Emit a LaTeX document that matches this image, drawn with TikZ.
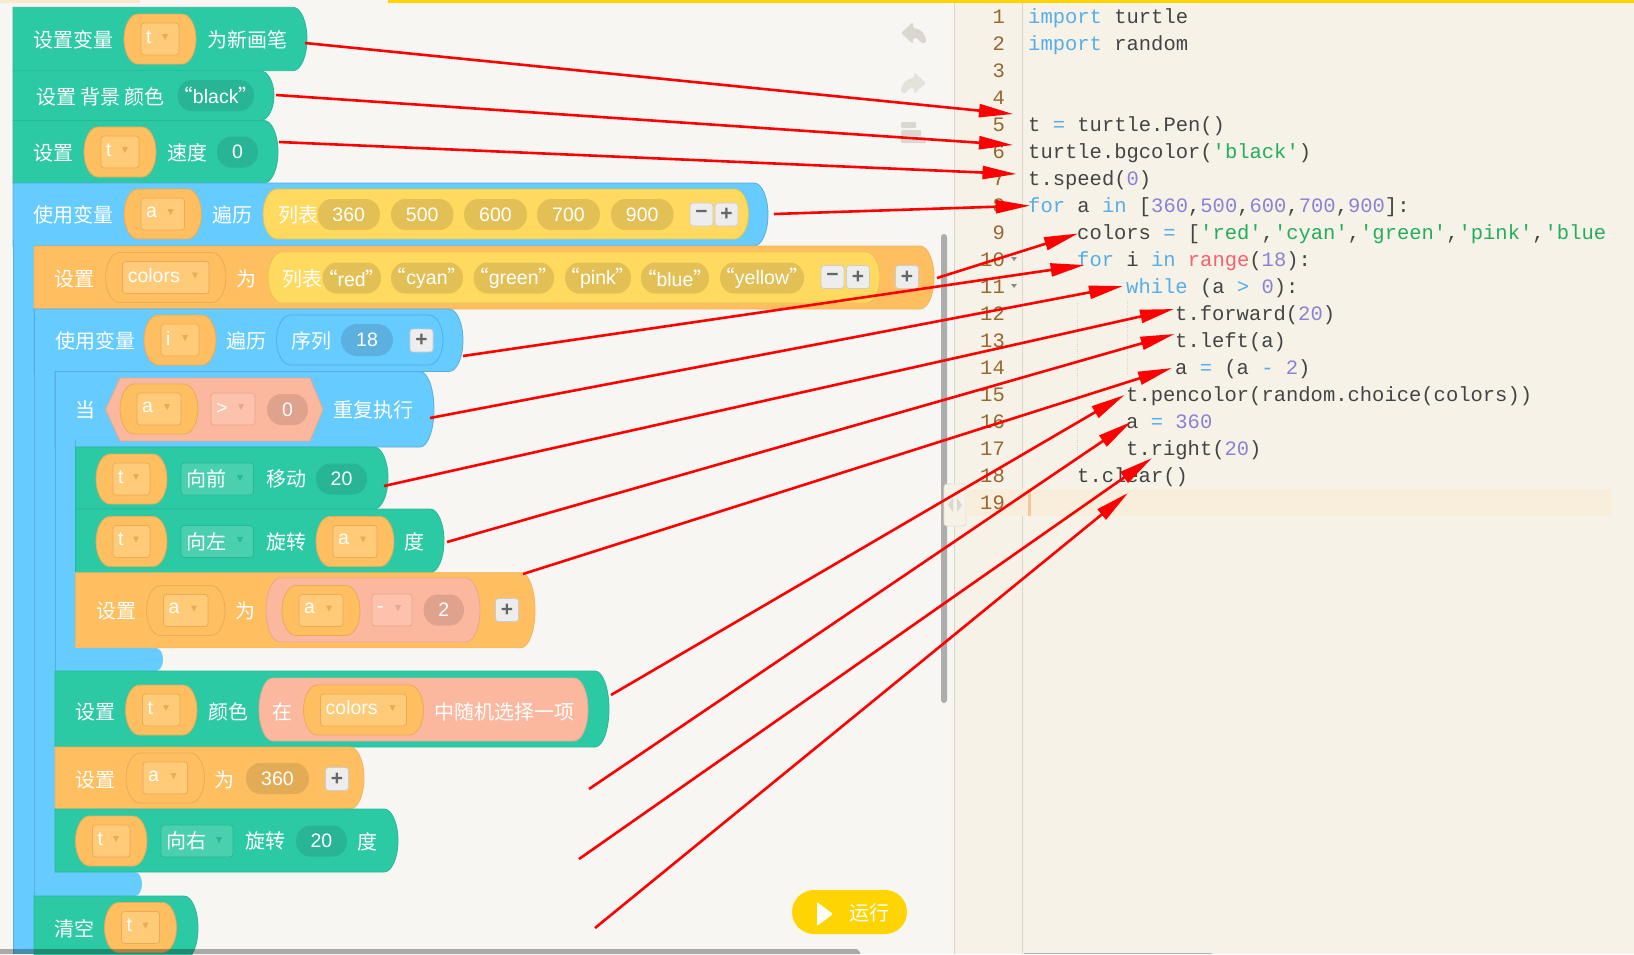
\documentclass[tikz,border=0pt]{standalone}
\usepackage{fontspec}
\setmainfont{Liberation Sans}
\newfontfamily\cjk{Noto Sans CJK SC}
\newfontfamily\codefont{Liberation Mono}
\usetikzlibrary{arrows.meta}
\definecolor{pagebg}{HTML}{F7F6F2}
\definecolor{codebg}{HTML}{F6F2E8}
\definecolor{linehl}{HTML}{F8EEDB}
\definecolor{goldc}{HTML}{FFD400}
\definecolor{greenb}{HTML}{2CC9A5}
\definecolor{greenl}{HTML}{27B89A}
\definecolor{greend}{HTML}{27B596}
\definecolor{greens}{HTML}{4AD0AF}
\definecolor{blueb}{HTML}{66CBFF}
\definecolor{bluel}{HTML}{58AEDC}
\definecolor{blued}{HTML}{5BB0E0}
\definecolor{orangeb}{HTML}{FFBF60}
\definecolor{orangel}{HTML}{E8AB58}
\definecolor{oranges}{HTML}{FFCB78}
\definecolor{oranged}{HTML}{E2AB56}
\definecolor{yellowb}{HTML}{FFDA5F}
\definecolor{yellowl}{HTML}{E6C254}
\definecolor{yellowd}{HTML}{E2C055}
\definecolor{salmonb}{HTML}{FBB89F}
\definecolor{salmonl}{HTML}{E8A78E}
\definecolor{salmons}{HTML}{FCC2AC}
\definecolor{salmond}{HTML}{DFA28C}
\definecolor{iconc}{HTML}{D9D7CF}
\definecolor{ckwc}{HTML}{56ADE8}
\definecolor{cstrc}{HTML}{22AE5C}
\definecolor{cnumc}{HTML}{8A82D4}
\definecolor{cfunc}{HTML}{F5606C}
\definecolor{ctxtc}{HTML}{444444}
\definecolor{lnumc}{HTML}{96682E}
\newcommand{\ckw}[1]{\textcolor{ckwc}{#1}}
\newcommand{\cstr}[1]{\textcolor{cstrc}{#1}}
\newcommand{\cnum}[1]{\textcolor{cnumc}{#1}}
\newcommand{\cfun}[1]{\textcolor{cfunc}{#1}}
\newcommand{\qt}[1]{\hspace*{-5pt}{\cjk “}#1{\cjk ”}\hspace*{-5pt}}
\tikzset{
  cn/.style={text=white,inner sep=0pt,font=\cjk\fontsize{20}{20}\selectfont},
  val/.style={text=white,inner sep=0pt,font=\fontsize{19.5}{20}\selectfont},
  greenblk/.style={fill=greenb,draw=greenl,line width=.8},
  blueblk/.style={fill=blueb,draw=bluel,line width=.8},
  bluefoot/.style={fill=blueb},
  orangeblk/.style={fill=orangeb,draw=orangel!60!orangeb,line width=.8},
  greennum/.style={fill=greend},
  bluenum/.style={fill=blued},
  orangenum/.style={fill=oranged},
  yellownum/.style={fill=yellowd},
  salmonnum/.style={fill=salmond},
  varbody/.style={fill=orangeb,draw=orangel,line width=.8},
  varslot/.style={fill=oranges,draw=orangel,line width=.8,rounded corners=3},
  greenslot/.style={fill=greens,draw=greenl,line width=.8,rounded corners=3},
  salmonslot/.style={fill=salmons,draw=salmonl,line width=.8,rounded corners=3},
  listbody/.style={fill=yellowb,draw=yellowl,line width=.8},
  seqbody/.style={fill=blueb,draw=bluel,line width=.8},
  salmonbody/.style={fill=salmonb,draw=salmonl,line width=.8},
  btn/.style={fill=black!7,draw=black!20,line width=.8,rounded corners=3,minimum width=23,minimum height=23,inner sep=0pt,text=black!60,font=\bfseries\fontsize{21}{21}\selectfont},
  codeline/.style={anchor=west,xshift=-1,inner sep=0pt,text=ctxtc,font=\codefont\fontsize{20.5}{21}\selectfont,text height=16,text depth=4},
  lineno/.style={anchor=east,inner sep=0pt,text=lnumc,font=\codefont\fontsize{20.5}{21}\selectfont,text height=16,text depth=4},
  redline/.style={red,line width=2.6,-{Triangle[length=34pt,width=13pt]}},
}
% block with a round right end
\newcommand{\blockshape}[6][14]{%
  \path[#2] (#3,{#5}) -- ({#4-#1},{#5}) .. controls ({#4-.45*#1},{#5}) and (#4,{#5+.225*(#6-#5)}) .. (#4,{(#5+#6)/2})
    .. controls (#4,{#6-.225*(#6-#5)}) and ({#4-.45*#1},{#6}) .. ({#4-#1},{#6}) -- (#3,{#6}) -- cycle;}
% pill, round at both ends
\newcommand{\pillshape}[6][14]{%
  \path[#2] (#3,{(#5+#6)/2}) .. controls (#3,{#5+.225*(#6-#5)}) and ({#3+.45*#1},{#5}) .. ({#3+#1},{#5})
    -- ({#4-#1},{#5}) .. controls ({#4-.45*#1},{#5}) and (#4,{#5+.225*(#6-#5)}) .. (#4,{(#5+#6)/2})
    .. controls (#4,{#6-.225*(#6-#5)}) and ({#4-.45*#1},{#6}) .. ({#4-#1},{#6})
    -- ({#3+#1},{#6}) .. controls ({#3+.45*#1},{#6}) and (#3,{#6-.225*(#6-#5)}) .. (#3,{(#5+#6)/2}) -- cycle;}
\newcommand{\slotmark}[3]{\fill[#3] ({#1-3},{#2-3}) -- ({#1+3},{#2-3}) -- ({#1},{#2+3}) -- cycle;}
% name, x1, x2, y centre, text
\newcommand{\varpill}[5]{%
  \pillshape{varbody}{#2}{#3}{(#4-25)}{(#4+25)}
  \draw[varslot] ({#2+17},{#4-16}) rectangle ({#3-17},{#4+16});
  \node (#1) [val,anchor=west] at ({#2+22},{#4-2}) {#5};
  \slotmark{(#3-31)}{(#4-2)}{orangel}}
% name, style, x1, x2, y centre, text
\newcommand{\numpill}[6]{%
  \pillshape{#2}{#3}{#4}{(#5-15.5)}{(#5+15.5)}
  \node (#1) [val] at ({(#3+#4)/2},#5) {#6};}
% name, slot style, x1, x2, y centre, text
\newcommand{\dropslot}[7][cn]{%
  \draw[#3] (#4,{#6-16}) rectangle (#5,{#6+16});
  \node (#2) [#1,anchor=west] at ({#4+5},#6) {#7};}
\begin{document}
\begin{tikzpicture}[x=1pt,y=-1pt]
\useasboundingbox (0,0) rectangle (1634,954);
\fill[pagebg] (0,0) rectangle (1634,954);
\fill[codebg] (954,3) rectangle (1634,954);
\draw[black!12!codebg,line width=1] (954,3) -- (954,954);
\draw[black!12!codebg,line width=1] (1022,3) -- (1022,954);
\fill[codebg!80!orangeb] (0,0) rectangle (140,3);
\fill[goldc] (388,0) rectangle (1634,3);

% blocks, outer ones first
\blockshape{greenblk}{13}{307}{7.3}{70.7}
\blockshape{greenblk}{13}{274}{70.7}{120.5}
\blockshape{greenblk}{13}{278}{120.5}{183}
\blockshape{blueblk}{13}{768}{183}{246}
\fill[blueb] (13.4,240) rectangle (34,954);
\draw[bluel,line width=.8] (13,240) -- (13,954);
\blockshape{orangeblk}{34}{934}{246}{309}
\blockshape[7]{bluefoot}{34}{142}{872}{896}
\blockshape{blueblk}{34}{463}{309}{371.5}
\fill[blueb] (34.4,365) rectangle (55,890);
\draw[bluel,line width=.8] (34,309) -- (34,954);
\blockshape[7]{bluefoot}{55}{163}{648}{671}
\blockshape{blueblk}{55}{434}{371.5}{447}
\fill[blueb] (55.4,440) rectangle (75.5,665);
\draw[bluel,line width=.8] (55,371.5) -- (55,872);
\draw[bluel,line width=.8] (75.5,440) -- (75.5,648);
\blockshape{greenblk}{75.5}{388}{447}{509}
\blockshape{greenblk}{75.5}{444}{509}{572.7}
\blockshape{orangeblk}{75.5}{535}{572.7}{647.7}
\blockshape{greenblk}{55}{609}{671}{747}
\blockshape{orangeblk}{55}{364}{747}{809}
\blockshape{greenblk}{55}{398}{809}{872}
\blockshape{greenblk}{34}{198}{896}{960}

% row 1
\node (newa) [cn] at (74,40) {设置变量};
\varpill{newt}{124}{196}{39}{t}
\node (newb) [cn] at (247,40) {为新画笔};
% row 2
\node (bga) [cn] at (100.5,97) {设置 背景 颜色};
\numpill{bgc}{greennum}{177.5}{254}{95.5}{\qt{black}}
% row 3
\node (spa) [cn] at (54,153) {设置};
\varpill{spt}{84}{156}{152}{t}
\node (spb) [cn] at (187,153) {速度};
\numpill{spn}{greennum}{217}{258}{152}{0}
% for a
\node (fora) [cn] at (74,215) {使用变量};
\varpill{forav}{124}{201.5}{214}{a}
\node (forb) [cn] at (232,215) {遍历};
\pillshape{listbody}{263}{748.5}{189}{239}
\node (forc) [cn] at (298.5,215) {列表};
\numpill{n360}{yellownum}{317.5}{380}{214.5}{360}
\numpill{n500}{yellownum}{391}{453.5}{214.5}{500}
\numpill{n600}{yellownum}{464}{527}{214.5}{600}
\numpill{n700}{yellownum}{537}{600}{214.5}{700}
\numpill{n900}{yellownum}{611}{673.5}{214.5}{900}
\node (fmin) [btn] at (701.5,214.5) {−};
\node (fplu) [btn] at (726.5,214.5) {+};
% colors
\node (cola) [cn] at (74,279) {设置};
\varpill{colv}{105.6}{226}{277.5}{colors}
\node (colb) [cn] at (246,279) {为};
\pillshape{listbody}{268}{880}{252}{303}
\node (colc) [cn] at (302.5,279) {列表};
\numpill{cred}{yellownum}{322.5}{381}{278}{\qt{red}}
\numpill{ccya}{yellownum}{391}{463}{278}{\qt{cyan}}
\numpill{cgre}{yellownum}{473.5}{554}{278}{\qt{green}}
\numpill{cpin}{yellownum}{565}{631}{278}{\qt{pink}}
\numpill{cblu}{yellownum}{641}{709}{278}{\qt{blue}}
\numpill{cyel}{yellownum}{720}{804}{278}{\qt{yellow}}
\node (cmin) [btn] at (832.5,277) {−};
\node (cplu) [btn] at (858,277) {+};
\node (cadd) [btn] at (907,277) {+};
% for i
\node (fia) [cn] at (95,341) {使用变量};
\varpill{fiv}{144}{216}{340}{i}
\node (fib) [cn] at (246,341) {遍历};
\pillshape{seqbody}{276.5}{443}{315}{365}
\node (fic) [cn] at (311,341) {序列};
\pillshape[16]{bluenum}{341}{393}{324}{356}
\node (fin) [val] at (367,340) {18};
\node (fip) [btn] at (421.5,340.5) {+};
% while
\node (wha) [cn] at (85.5,410) {当};
\draw[salmonbody] (105.6,409.5) -- (120,378) -- (310,378) -- (323,409.5) -- (310,441) -- (120,441) -- cycle;
\varpill{whv}{120}{198}{409}{a}
\dropslot[val]{whs}{salmonslot}{211}{255}{409}{>}
\slotmark{241}{407}{salmonl}
\numpill{whn}{salmonnum}{267}{308}{409.5}{0}
\node (whb) [cn] at (373.5,410) {重复执行};
% forward
\varpill{fwt}{96}{167}{479}{t}
\dropslot{fws}{greenslot}{181}{253.5}{479}{向前}
\slotmark{240}{478}{greenl}
\node (fwa) [cn] at (286,479) {移动};
\numpill{fwn}{greennum}{316}{367}{479}{20}
% left
\varpill{ltt}{96}{167}{541.5}{t}
\dropslot{lts}{greenslot}{181}{253.5}{541.5}{向左}
\slotmark{240}{540}{greenl}
\node (lta) [cn] at (286,541.5) {旋转};
\varpill{ltv}{316}{394}{541.5}{a}
\node (ltb) [cn] at (414,542) {度};
% a = a - 2
\node (mia) [cn] at (116,611) {设置};
\varpill{miv}{146.5}{225}{610.5}{a}
\node (mib) [cn] at (245.5,611) {为};
\pillshape{salmonbody}{266}{480}{578}{642}
\varpill{miw}{282}{360}{610.5}{a}
\dropslot[val]{mis}{salmonslot}{372}{412}{610}{-}
\slotmark{398}{608}{salmonl}
\numpill{min}{salmonnum}{423.5}{464}{610}{2}
\node (mip) [btn] at (507,610) {+};
% pencolor
\node (pca) [cn] at (95,712) {设置};
\varpill{pct}{125.5}{197}{710}{t}
\node (pcb) [cn] at (228,712) {颜色};
\pillshape{salmonbody}{259}{588}{678}{741}
\node (pcc) [cn] at (282,712) {在};
\varpill{pcv}{303.5}{423.5}{710}{colors}
\node (pcd) [cn] at (504.5,712) {中随机选择一项};
% a = 360
\node (sea) [cn] at (95,780) {设置};
\varpill{sev}{126}{204.5}{778}{a}
\node (seb) [cn] at (224,780) {为};
\numpill{sen}{orangenum}{246}{309}{778.5}{360}
\node (sep) [btn] at (337,779) {+};
% right
\varpill{rtt}{75.5}{147}{841}{t}
\dropslot{rts}{greenslot}{161}{233}{841}{向右}
\slotmark{219}{840}{greenl}
\node (rta) [cn] at (265,841) {旋转};
\numpill{rtn}{greennum}{296}{347}{841}{20}
\node (rtb) [cn] at (367,842) {度};
% clear
\node (cla) [cn] at (74.5,929) {清空};
\varpill{clt}{104.5}{176.5}{927.5}{t}

% toolbar icons
\fill[iconc,rounded corners=1.5] (901,33) -- (913,22) -- (913,28) .. controls (921,29) and (926,34) .. (926,43) -- (921,43) .. controls (919,39) and (917,38) .. (913,38) -- (913,44) -- cycle;
\fill[iconc!65!pagebg,rounded corners=1.5] (926,83) -- (914,72) -- (914,78) .. controls (906,79) and (901,84) .. (901,93) -- (906,93) .. controls (908,89) and (910,88) .. (914,88) -- (914,94) -- cycle;
\fill[iconc,rounded corners=1] (901,122) rectangle (916,128);
\fill[iconc,rounded corners=1] (901,130) rectangle (921,136);
\fill[iconc,rounded corners=1] (901,137) rectangle (926,143);

% run button
\fill[goldc,rounded corners=22] (792,890) rectangle (907,934);
\fill[white,rounded corners=1] (817,902) -- (833,914) -- (817,926) -- cycle;
\node (run) [cn,font=\cjk\fontsize{20}{20}\selectfont] at (869,913) {运行};

% scroll bars and splitter
\fill[black!32,rounded corners=3] (941,234) rectangle (947,703);
\fill[black,opacity=.31] (0,949) -- (857,949) -- (860,952) -- (860,954) -- (0,954) -- cycle;
\fill[black!30] (1024,953) rectangle (1212,954);
\draw[black!8!codebg,fill=codebg,line width=.8,rounded corners=3] (944,484) rectangle (966,526);
\fill[iconc] (953,498) -- (948,505) -- (953,512) -- cycle;
\fill[iconc] (957,498) -- (962,505) -- (957,512) -- cycle;

% code panel
\fill[linehl] (966,489) rectangle (1612,516);
\fill[orangel!55!codebg] (1028,489) rectangle (1031,516);
\draw[black!12!codebg,dotted] (1077,303) -- (1077,455);
\draw[black!12!codebg,dotted] (1127,301) -- (1127,375);
\foreach \n in {1,...,19}
  \node (num\n) [lineno] at (1005,{17+27*(\n-1)}) {\n};
\fill[black!45] (1011,257) -- (1017,257) -- (1014,261) -- cycle;
\fill[black!45] (1011,284) -- (1017,284) -- (1014,288) -- cycle;
\node (code1) [codeline] at (1029,17) {\ckw{import} turtle};
\node (code2) [codeline] at (1029,44) {\ckw{import} random};
\node (code5) [codeline] at (1029,125) {t \ckw{=} turtle.Pen()};
\node (code6) [codeline] at (1029,152) {turtle.bgcolor(\cstr{'black'})};
\node (code7) [codeline] at (1029,179) {t.speed(\cnum{0})};
\node (code8) [codeline] at (1029,206) {\ckw{for} a \ckw{in} [\cnum{360},\cnum{500},\cnum{600},\cnum{700},\cnum{900}]:};
\node (code9) [codeline] at (1078,233) {colors \ckw{=} [\cstr{'red'},\cstr{'cyan'},\cstr{'green'},\cstr{'pink'},\cstr{'blue}};
\node (code10) [codeline] at (1078,260) {\ckw{for} i \ckw{in} \cfun{range}(\cnum{18}):};
\node (code11) [codeline] at (1127,287) {\ckw{while} (a \ckw{>} \cnum{0}):};
\node (code12) [codeline] at (1176,314) {t.forward(\cnum{20})};
\node (code13) [codeline] at (1176,341) {t.left(a)};
\node (code14) [codeline] at (1176,368) {a \ckw{=} (a \ckw{-} \cnum{2})};
\node (code15) [codeline] at (1127,395) {t.pencolor(random.choice(colors))};
\node (code16) [codeline] at (1127,422) {a \ckw{=} \cnum{360}};
\node (code17) [codeline] at (1127,449) {t.right(\cnum{20})};
\node (code18) [codeline] at (1078,476) {t.clear()};

% red links
\foreach \k/\sx/\sy/\ex/\ey in {1/305/43/1013/114, 2/276/95/1013/145, 3/279/142/1016.5/174,
    4/774/214/1030/205.6, 5/937/278/1078/233.5, 6/463/356/1084.6/265, 7/430/418/1123/286,
    8/384/486/1174/309, 9/447/542/1174.5/334, 10/523/574/1172/368, 11/611/695/1124.5/395,
    12/589/789/1131/422, 13/579/859/1152/458, 14/595/928/1128/493}{
  \coordinate (from\k) at (\sx,\sy);
  \coordinate (to\k) at (\ex,\ey);
  \draw[redline] (from\k) -- (to\k);
}
\end{tikzpicture}
\end{document}
